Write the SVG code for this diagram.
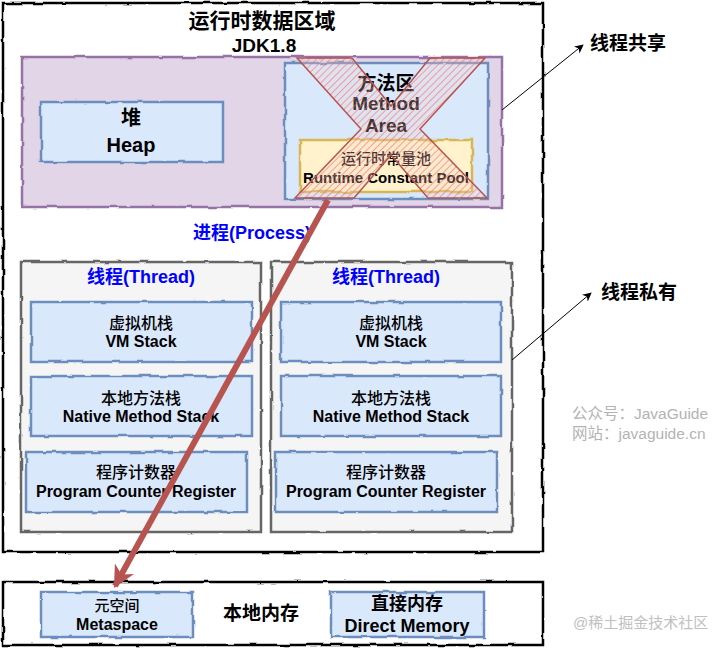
<svg xmlns="http://www.w3.org/2000/svg" width="727" height="648" viewBox="0 0 727 648">
<style>
text{font-family:"Liberation Sans","Noto Sans CJK SC",sans-serif;text-anchor:middle;dominant-baseline:central;fill:#000}
.b{font-weight:bold}
.m{font-weight:500}
.blue{fill:#0000ff;font-weight:bold;font-size:18px}
.cell{fill:#dae8fc;stroke:#6c8ebf;stroke-width:2.5}
.thread{fill:#f5f5f5;stroke:#666666;stroke-width:2.5}
.wm{fill:#b3b3b3;text-anchor:start;font-size:15.5px}
.rough{filter:url(#rough)}
</style>
<defs>
<filter id="rough" x="-5%" y="-5%" width="110%" height="110%">
<feTurbulence type="fractalNoise" baseFrequency="0.06" numOctaves="2" seed="3" result="n"/>
<feDisplacementMap in="SourceGraphic" in2="n" scale="3" xChannelSelector="R" yChannelSelector="G"/>
</filter>
<pattern id="hatch" width="5" height="5" patternUnits="userSpaceOnUse" patternTransform="rotate(45)">
<rect width="5" height="5" fill="#f8cecc" fill-opacity="0.25"/>
<line x1="0" y1="0" x2="0" y2="5" stroke="#ea6b66" stroke-width="1.6" stroke-opacity="0.7"/>
</pattern>
<marker id="ah" viewBox="0 0 10 10" refX="9" refY="5" markerWidth="9" markerHeight="9" markerUnits="userSpaceOnUse" orient="auto">
<path d="M0,0 L10,5 L0,10 L3,5 Z" fill="#000"/>
</marker>
<marker id="ahr" viewBox="0 0 10 10" refX="9" refY="5" markerWidth="22" markerHeight="22" markerUnits="userSpaceOnUse" orient="auto">
<path d="M0,0 L10,5 L0,10 L3,5 Z" fill="#b85450"/>
</marker>
</defs>
<rect width="727" height="648" fill="#ffffff"/>

<g id="runtime-data-area">
<rect class="rough" x="3" y="3" width="540" height="549" fill="#ffffff" stroke="#000" stroke-width="2.5"/>
<text class="b" x="262" y="20" font-size="21">运行时数据区域</text>
<text class="b" x="264" y="45" font-size="19">JDK1.8</text>
</g>

<g id="process">
<rect class="rough" x="22" y="57" width="480" height="150" fill="#e1d5e7" stroke="#9673a6" stroke-width="2.5"/>
<text class="blue" x="252" y="233">进程(Process)</text>
</g>

<g id="heap">
<rect class="cell rough" x="41" y="102" width="182" height="60"/>
<text class="b" x="131" y="118" font-size="20">堆</text>
<text class="b" x="131" y="145" font-size="20">Heap</text>
</g>

<g id="method-area">
<rect class="cell rough" x="285" y="63" width="203" height="136"/>
<text class="b" x="386" y="83" font-size="19">方法区</text>
<text class="b" x="386" y="103" font-size="19">Method</text>
<text class="b" x="386" y="125" font-size="19">Area</text>
</g>

<g id="runtime-constant-pool">
<rect class="rough" x="300" y="140" width="172" height="52" fill="#fff2cc" stroke="#d6b656" stroke-width="2.5"/>
<text class="m" x="386" y="158" font-size="15">运行时常量池</text>
<text class="b" x="386" y="177" font-size="15">Runtime Constant Pool</text>
</g>

<g id="removed-cross">
<polygon points="297,58 352,58 391,106 430,58 485,58 420,129 487,198 428,198 391,155 354,198 295,198 361,129" fill="url(#hatch)" stroke="#b85450" stroke-width="1.5"/>
</g>

<g id="thread-left">
<rect class="thread rough" x="21" y="262" width="240" height="270"/>
<text class="blue" x="141" y="277">线程(Thread)</text>
</g>
<g id="vm-stack-left">
<rect class="cell rough" x="31" y="302" width="221" height="60"/>
<text class="m" x="141" y="323" font-size="16">虚拟机栈</text>
<text class="b" x="141" y="341" font-size="16">VM Stack</text>
</g>
<g id="native-stack-left">
<rect class="cell rough" x="31" y="376" width="221" height="60"/>
<text class="m" x="141" y="398" font-size="16">本地方法栈</text>
<text class="b" x="141" y="416" font-size="16">Native Method Stack</text>
</g>
<g id="pc-left">
<rect class="cell rough" x="26" y="452" width="221" height="60"/>
<text class="m" x="136" y="472" font-size="16">程序计数器</text>
<text class="b" x="136" y="491" font-size="16">Program Counter Register</text>
</g>

<g id="thread-right">
<rect class="thread rough" x="271" y="262" width="241" height="270"/>
<text class="blue" x="386" y="277">线程(Thread)</text>
</g>
<g id="vm-stack-right">
<rect class="cell rough" x="281" y="302" width="220" height="60"/>
<text class="m" x="391" y="323" font-size="16">虚拟机栈</text>
<text class="b" x="391" y="341" font-size="16">VM Stack</text>
</g>
<g id="native-stack-right">
<rect class="cell rough" x="281" y="376" width="220" height="60"/>
<text class="m" x="391" y="398" font-size="16">本地方法栈</text>
<text class="b" x="391" y="416" font-size="16">Native Method Stack</text>
</g>
<g id="pc-right">
<rect class="cell rough" x="276" y="452" width="221" height="60"/>
<text class="m" x="386" y="472" font-size="16">程序计数器</text>
<text class="b" x="386" y="491" font-size="16">Program Counter Register</text>
</g>

<g id="native-memory">
<rect class="rough" x="3" y="582" width="540" height="63" fill="#ffffff" stroke="#000" stroke-width="2.5"/>
<text class="b" x="261" y="613" font-size="19">本地内存</text>
</g>
<g id="metaspace">
<rect class="cell rough" x="41" y="592" width="152" height="45"/>
<text class="m" x="117" y="605" font-size="15">元空间</text>
<text class="b" x="117" y="624" font-size="16">Metaspace</text>
</g>
<g id="direct-memory">
<rect class="cell rough" x="331" y="592" width="153" height="45"/>
<text class="b" x="407" y="604" font-size="18">直接内存</text>
<text class="b" x="407" y="626" font-size="18">Direct Memory</text>
</g>

<g id="label-shared">
<text class="b" x="590" y="43" font-size="19" style="text-anchor:start">线程共享</text>
</g>
<g id="label-private">
<text class="b" x="601" y="292" font-size="19" style="text-anchor:start">线程私有</text>
</g>

<g id="connectors">
<line x1="502" y1="110" x2="583" y2="45" stroke="#000" stroke-width="1" marker-end="url(#ah)"/>
<line x1="512" y1="360" x2="591" y2="293" stroke="#000" stroke-width="1" marker-end="url(#ah)"/>
<line x1="328" y1="200" x2="115" y2="586" stroke="#b85450" stroke-width="6" marker-end="url(#ahr)"/>
</g>

<g id="watermarks">
<text class="wm" x="572" y="413">公众号：JavaGuide</text>
<text class="wm" x="572" y="433">网站：javaguide.cn</text>
<text class="wm" x="573" y="622" style="fill:#c0c0c0;font-size:15px">@稀土掘金技术社区</text>
</g>
</svg>
